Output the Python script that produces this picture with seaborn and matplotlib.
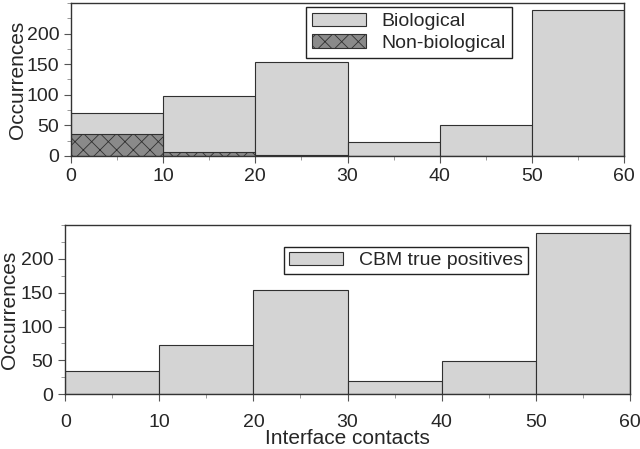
import numpy as np
import pandas as pd
import seaborn as sns
import matplotlib.pyplot as plt
from matplotlib.ticker import MultipleLocator

bin_edges = [0, 10, 20, 30, 40, 50, 60]
bin_centers = [5, 15, 25, 35, 45, 55]
biological = [70, 98, 154, 23, 50, 238]
non_biological = [35, 7, 1, 0, 0, 0]
cbm_true_pos = [34, 73, 154, 19, 49, 238]

sns.set_style('ticks')
plt.rcParams['font.family'] = ['Liberation Sans', 'DejaVu Sans']
plt.rcParams['hatch.color'] = '#3a3a3a'
plt.rcParams['hatch.linewidth'] = 0.6

df = pd.DataFrame({'contacts': bin_centers, 'bio': biological,
                   'nonbio': non_biological, 'cbm': cbm_true_pos})

fig = plt.figure(figsize=(6.4, 4.49), dpi=100)
ax1 = fig.add_axes([0.111, 0.653, 0.864, 0.340])
ax2 = fig.add_axes([0.102, 0.122, 0.882, 0.377])

light = '#d4d4d4'
edge = '#303030'

sns.histplot(data=df, x='contacts', weights='bio', bins=bin_edges, ax=ax1,
             color=light, edgecolor=edge, linewidth=0.8, alpha=1,
             label='Biological')
sns.histplot(data=df, x='contacts', weights='nonbio', bins=bin_edges, ax=ax1,
             color='#8a8a8a', edgecolor=edge, linewidth=0.8, alpha=1,
             hatch='xx', label='Non-biological')
sns.histplot(data=df, x='contacts', weights='cbm', bins=bin_edges, ax=ax2,
             color=light, edgecolor=edge, linewidth=0.8, alpha=1,
             label='CBM true positives')

for ax in (ax1, ax2):
    ax.set_xlim(0, 60)
    ax.set_ylim(0, 250)
    ax.set_xticks(bin_edges)
    ax.set_yticks([0, 50, 100, 150, 200])
    ax.xaxis.set_minor_locator(MultipleLocator(5))
    ax.yaxis.set_minor_locator(MultipleLocator(25))
    ax.tick_params(labelsize=14, direction='out', length=5, color='#555555')
    ax.tick_params(which='minor', length=3, color='#888888')
    ax.set_xlabel('')
    for s in ax.spines.values():
        s.set_color('#333333')
        s.set_linewidth(1.0)

ax2.tick_params(axis='x', pad=9)
ax1.set_ylabel('Occurrences', fontsize=15, labelpad=0)
ax2.set_ylabel('Occurrences', fontsize=15, labelpad=1)
ax2.set_xlabel('Interface contacts', fontsize=15, labelpad=-1)

leg1 = ax1.legend(loc='upper right', bbox_to_anchor=(0.797, 0.975), fontsize=14,
                  frameon=True, fancybox=False, handlelength=2.8,
                  borderpad=0.3, labelspacing=0.2, borderaxespad=0)
leg2 = ax2.legend(loc='upper right', bbox_to_anchor=(0.819, 0.871), fontsize=14,
                  frameon=True, fancybox=False, handlelength=2.8,
                  borderpad=0.25, borderaxespad=0)
for leg in (leg1, leg2):
    leg.get_frame().set_edgecolor('#222222')
    leg.get_frame().set_linewidth(1.0)
    leg.get_frame().set_alpha(1)

fig.savefig('out.png', dpi=100)
